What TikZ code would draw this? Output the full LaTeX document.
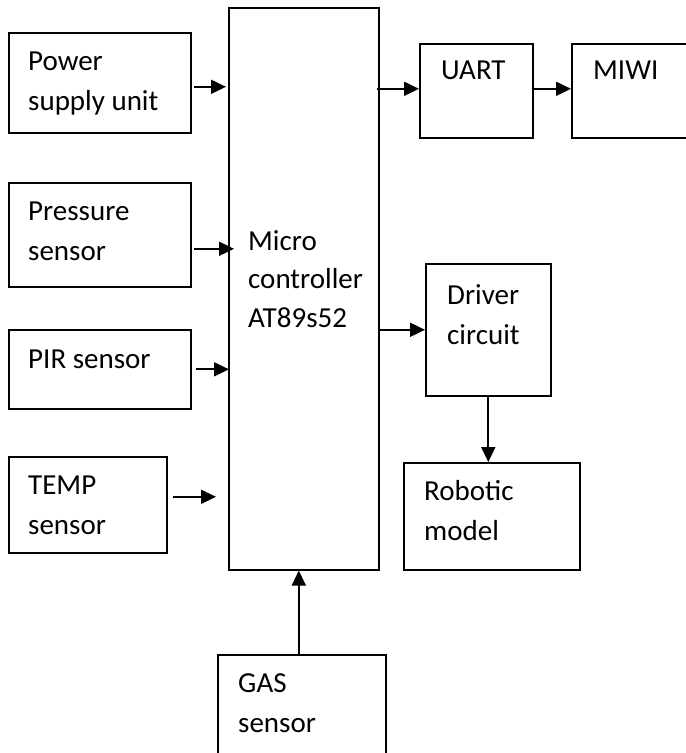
\documentclass[tikz,border=0pt]{standalone}
\usepackage{fontspec}
\setmainfont{Carlito}
\usepackage{tikz}
\usetikzlibrary{arrows.meta,positioning,calc}

\begin{document}
\begin{tikzpicture}[
  x=1pt, y=-1pt,
  blk_box/.style={draw=black, line width=1.6pt, fill=white, inner sep=0pt, anchor=north west},
  txt/.style    ={font=\fontsize{29}{40}\selectfont, align=left, inner sep=0pt, anchor=north west},
  arr/.style    ={-{Triangle[length=15pt, width=14pt]}, line width=1.9pt, black},
]
  \clip (0,0) rectangle (686,753);

  % boxes
  \node[blk_box, minimum width=182pt, minimum height=100pt] (power)    at (8,32)   {};
  \node[blk_box, minimum width=182pt, minimum height=104pt] (pressure) at (8,182)  {};
  \node[blk_box, minimum width=182pt, minimum height=79pt]  (pir)      at (8,329)  {};
  \node[blk_box, minimum width=158pt, minimum height=96pt]  (temp)     at (8,456)  {};
  \node[blk_box, minimum width=150pt, minimum height=562pt] (micro)    at (228,7)  {};
  \node[blk_box, minimum width=113pt, minimum height=94pt]  (uart)     at (419,43) {};
  \node[blk_box, minimum width=130pt, minimum height=94pt]  (miwi)     at (571,43) {};
  \node[blk_box, minimum width=125pt, minimum height=132pt] (driver)   at (425,263) {};
  \node[blk_box, minimum width=176pt, minimum height=107pt] (robot)    at (403,462) {};
  \node[blk_box, minimum width=168pt, minimum height=130pt] (gas)      at (217,654) {};

  % texts
  \node[txt] (power_t)    at (28,52)   {Power\\supply unit};
  \node[txt] (pressure_t) at (28,202)  {Pressure\\sensor};
  \node[txt] (pir_t)      at (28,350)  {PIR sensor};
  \node[txt] (temp_t)     at (28,476)  {TEMP\\sensor};
  \node[txt, font=\fontsize{29}{38.5}\selectfont] (micro_t) at (248,230) {Micro\\controller\\AT89s52};
  \node[txt] (uart_t)     at (441,61)  {UART};
  \node[txt] (miwi_t)     at (593,61)  {MIWI};
  \node[txt] (driver_t)   at (447,284) {Driver\\circuit};
  \node[txt] (robot_t)    at (424,480) {Robotic\\model};
  \node[txt] (gas_t)      at (238,673) {GAS\\sensor};

  \draw[arr, shorten <=2pt, shorten >=2pt] ([yshift=-4pt]power.east) -- ([yshift=-4pt]power.east -| micro.west);
  \draw[arr, shorten <=2pt, shorten >=-6pt] ([yshift=-14pt]pressure.east) -- ([yshift=-14pt]pressure.east -| micro.west);
  \draw[arr, shorten <=4pt, shorten >=-1pt] (pir.east) -- (pir.east -| micro.west);
  \draw[arr, shorten <=5pt, shorten >=12pt] ([yshift=8pt]temp.east) -- ([yshift=8pt]temp.east -| micro.west);
  \draw[arr, shorten <=-3pt] ([yshift=2pt]uart.west -| micro.east) -- ([yshift=2pt]uart.west);
  \draw[arr] ([yshift=2pt]uart.east) -- ([yshift=2pt]uart.east -| miwi.west);
  \draw[arr] (driver.west -| micro.east) -- (driver.west);
  \draw[arr] (driver.south) -- (driver.south |- robot.north);
  \draw[arr] ([xshift=-3pt]gas.north) -- ([xshift=-3pt]gas.north |- micro.south);
\end{tikzpicture}
\end{document}
